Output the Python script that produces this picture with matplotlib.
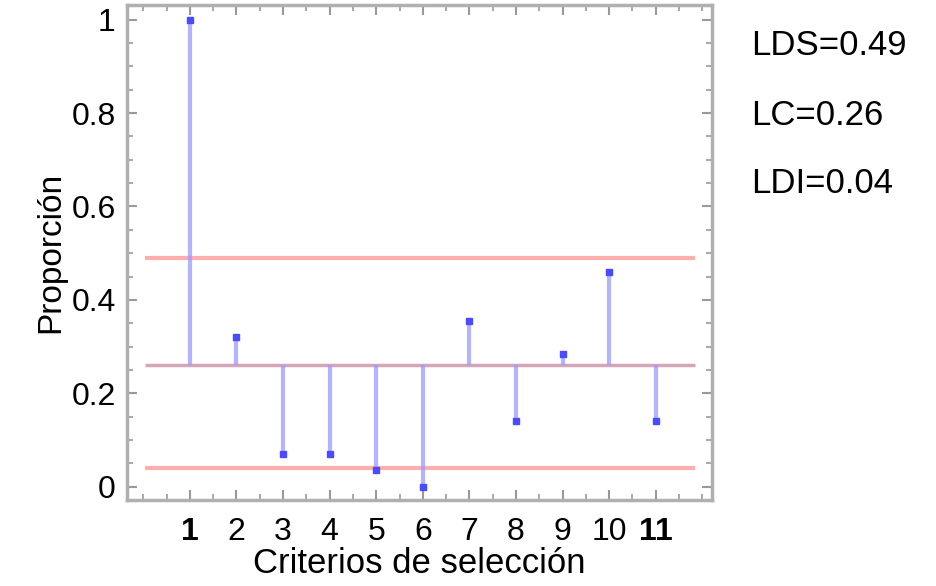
import numpy as np
import matplotlib.pyplot as plt
from matplotlib.ticker import MultipleLocator

plt.rcParams["font.family"] = ["Liberation Sans", "DejaVu Sans"]

# Data
criterios = [1, 2, 3, 4, 5, 6, 7, 8, 9, 10, 11]
etiquetas = ["1", "2", "3", "4", "5", "6", "7", "8", "9", "10", "11"]
proporcion = [1.0, 0.32, 0.07, 0.07, 0.035, 0.0, 0.355, 0.14, 0.285, 0.46, 0.14]
lds = 0.49
lc = 0.26
ldi = 0.04

fig = plt.figure(figsize=(9.37, 5.86), dpi=100)
ax = fig.add_axes([0.1355, 0.147, 0.624, 0.845])

# control limits
ax.hlines([lds, ldi], 0.03, 11.85, colors="#ff9a9a", linewidth=3, alpha=0.8, zorder=1)
ax.hlines(lc, 0.03, 11.85, colors="#c890a8", linewidth=2.5, alpha=0.8, zorder=1)

# stems from the central line
ax.vlines(criterios, lc, proporcion, colors="#9a9aff", linewidth=3, alpha=0.75, zorder=2)
ax.plot(criterios, proporcion, "s", color="#4a4aff", markersize=4, zorder=3)

ax.set_xlim(-0.35, 12.2)
ax.set_ylim(-0.028, 1.032)

ax.set_yticks([0, 0.2, 0.4, 0.6, 0.8, 1])
ax.set_yticklabels(["0", "0.2", "0.4", "0.6", "0.8", "1"])
ax.yaxis.set_minor_locator(MultipleLocator(0.05))
ax.set_xticks(criterios)
ax.set_xticklabels(etiquetas)
ax.xaxis.set_minor_locator(MultipleLocator(0.5))

ax.tick_params(axis="both", which="both", direction="in", top=True, right=True,
               color="#999999", labelsize=23)
ax.tick_params(axis="both", which="major", length=7, width=1.5)
ax.tick_params(axis="both", which="minor", length=4, width=1.2)
ax.tick_params(axis="x", pad=12)
ax.tick_params(axis="y", pad=8)
for lbl in ax.get_xticklabels():
    if lbl.get_text() in ("1", "11"):
        lbl.set_fontweight("bold")

for sp in ax.spines.values():
    sp.set_color("#b0b0b0")
    sp.set_linewidth(2.5)

ax.set_ylabel("Proporción", fontsize=24, labelpad=4)
ax.set_xlabel("Criterios de selección", fontsize=25, labelpad=0)

fig.text(0.802, 0.922, "LDS=%.2f" % lds, fontsize=25, va="center")
fig.text(0.802, 0.803, "LC=%.2f" % lc, fontsize=25, va="center")
fig.text(0.802, 0.687, "LDI=%.2f" % ldi, fontsize=25, va="center")

fig.savefig("out.png", dpi=100)
